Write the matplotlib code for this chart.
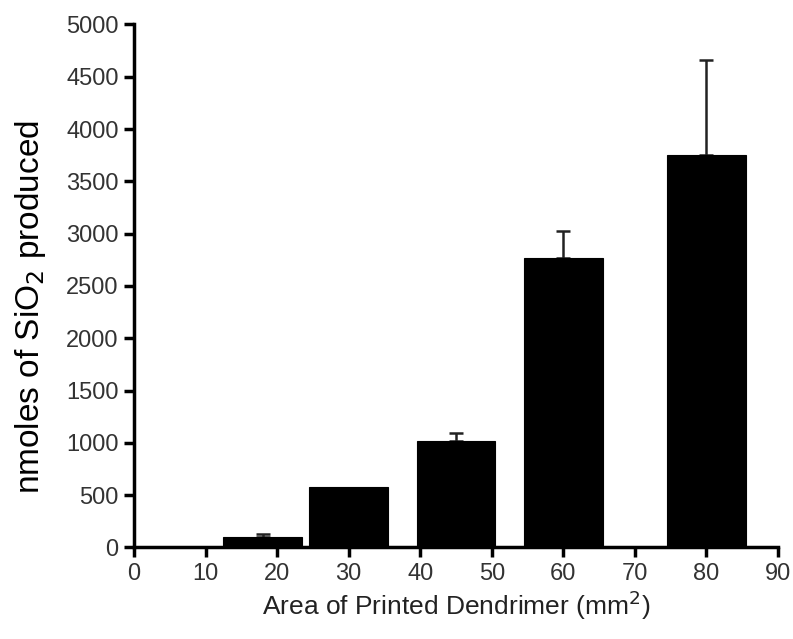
import matplotlib
matplotlib.use("Agg")
import matplotlib.pyplot as plt

# area of printed dendrimer (mm^2) and SiO2 produced (nmol)
area = [18, 30, 45, 60, 80]
sio2 = [100, 580, 1020, 2770, 3750]
err_up = [30, 0, 75, 255, 910]

plt.rcParams["font.family"] = ["Liberation Sans", "DejaVu Sans"]

fig = plt.figure(figsize=(7.93, 6.39), dpi=100)
ax = fig.add_axes([0.169, 0.1432, 0.812, 0.8185])

ax.bar(area, sio2, width=11, color="black", edgecolor="black", linewidth=0.8,
       zorder=2)
# only the bars that have an error bar (bar at 30 mm^2 has none visible)
has_err = [i for i, e in enumerate(err_up) if e > 0]
ax.errorbar([area[i] for i in has_err], [sio2[i] for i in has_err],
            yerr=[[0] * len(has_err), [err_up[i] for i in has_err]],
            fmt="none", ecolor="#222222", elinewidth=1.8, capsize=5,
            capthick=1.8, zorder=1)

ax.set_xlim(0, 90)
ax.set_ylim(0, 5000)
ax.set_xticks(range(0, 91, 10))
ax.set_yticks(range(0, 5001, 500))
for s in ("top", "right"):
    ax.spines[s].set_visible(False)
for s in ("left", "bottom"):
    ax.spines[s].set_linewidth(2.5)
ax.tick_params(direction="out", length=7, width=2.5, labelsize=17,
               labelcolor="#333333", pad=4)

ax.set_xlabel("Area of Printed Dendrimer (mm$^2$)", fontsize=19,
              color="#222222", labelpad=3)
ax.set_ylabel("nmoles of SiO$_2$ produced", fontsize=24)
ax.yaxis.set_label_coords(-0.133, 0.46)

fig.savefig("out.png", dpi=100)
